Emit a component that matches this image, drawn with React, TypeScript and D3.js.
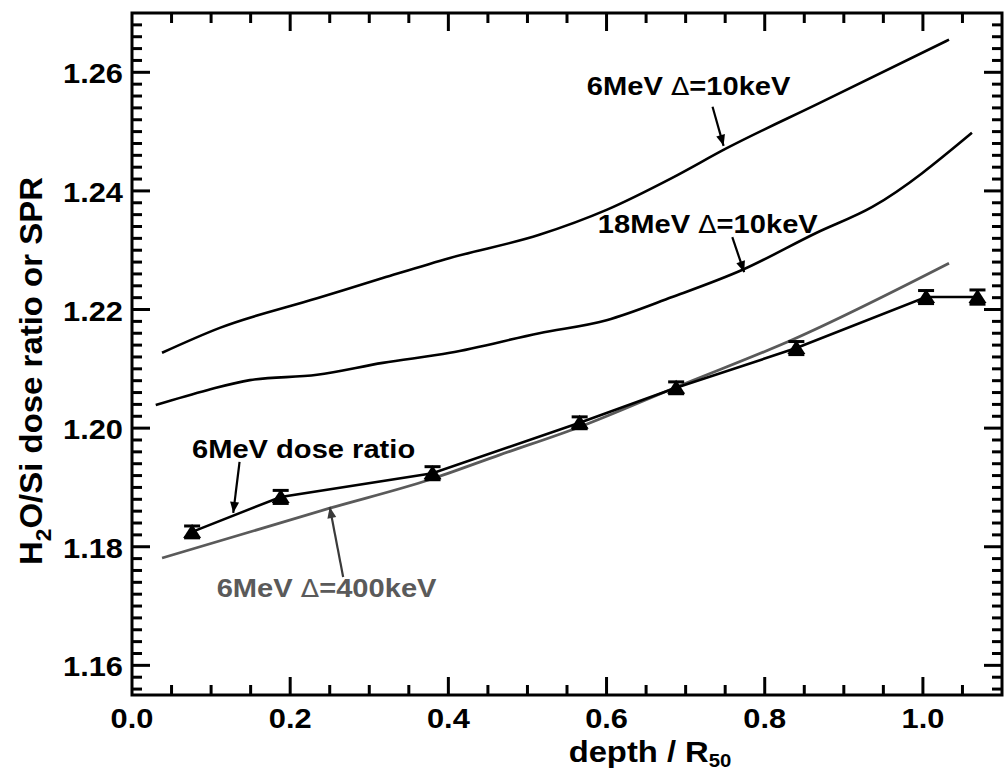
import React from "react";
import * as d3 from "d3";

// ---------- data ----------
const depthPts = [0.076, 0.188, 0.380, 0.566, 0.688, 0.840, 1.004, 1.069];
const doseRatio = [1.1825, 1.1884, 1.1924, 1.2009, 1.2068, 1.2135, 1.2221, 1.2221];
const doseErr = [0.0010, 0.0011, 0.0011, 0.0010, 0.0010, 0.0011, 0.0011, 0.0012];

const spr6x = [0.038, 0.111, 0.234, 0.317, 0.402, 0.515, 0.600, 0.683, 0.752, 0.869, 1.033];
const spr6y = [1.2127, 1.2169, 1.2219, 1.2253, 1.2287, 1.2326, 1.2368, 1.2422, 1.2472, 1.2548, 1.2655];

const spr18x = [0.030, 0.095, 0.149, 0.234, 0.317, 0.402, 0.515, 0.600, 0.683, 0.772, 0.865, 0.936, 1.062];
const spr18y = [1.2039, 1.2064, 1.2081, 1.2090, 1.2110, 1.2127, 1.2160, 1.2182, 1.2221, 1.2267, 1.2329, 1.2373, 1.2498];

const spr400x = [0.038, 0.250, 0.376, 0.465, 0.566, 0.688, 0.835, 1.033];
const spr400y = [1.1781, 1.1865, 1.1913, 1.1955, 1.2002, 1.2069, 1.2149, 1.2278];

const xMajorTicks = [0.0, 0.2, 0.4, 0.6, 0.8, 1.0];
const xTickLabels = ["0.0", "0.2", "0.4", "0.6", "0.8", "1.0"];
const yMajorTicks = [1.16, 1.18, 1.20, 1.22, 1.24, 1.26];
const yTickLabels = ["1.16", "1.18", "1.20", "1.22", "1.24", "1.26"];

const annLabels = [
  { pre: "6MeV ", delta: "\u0394", post: "=10keV", x: 0.575, y: 1.2562, gray: false },
  { pre: "18MeV ", delta: "\u0394", post: "=10keV", x: 0.589, y: 1.2329, gray: false },
  { pre: "6MeV dose ratio", delta: "", post: "", x: 0.0758, y: 1.1950, gray: false },
  { pre: "6MeV ", delta: "\u0394", post: "=400keV", x: 0.107, y: 1.1715, gray: true },
];
const annArrows = [
  { x1: 0.734, y1: 1.2542, x2: 0.748, y2: 1.2476, gray: false },
  { x1: 0.759, y1: 1.2322, x2: 0.774, y2: 1.2263, gray: false },
  { x1: 0.136, y1: 1.1943, x2: 0.128, y2: 1.1857, gray: false },
  { x1: 0.267, y1: 1.1749, x2: 0.250, y2: 1.1867, gray: true },
];

// ---------- layout ----------
const W = 1004;
const H = 773;
const X0 = 132, X1 = 1002, Y0 = 695, Y1 = 13;
const FONT = "'Liberation Sans', Arial, Helvetica, sans-serif";
const SX = 1.12;
const GRAY = "#5a5a5a";

export default function App() {
  const x = d3.scaleLinear().domain([0, 1.1]).range([X0, X1]);
  const y = d3.scaleLinear().domain([1.155, 1.27]).range([Y0, Y1]);

  const curve = (xs: number[], ys: number[]) =>
    d3.line<number>().x((_, i) => x(xs[i])).y((_, i) => y(ys[i])).curve(d3.curveMonotoneX)(xs) || "";
  const straight = d3.line<number>().x((_, i) => x(depthPts[i])).y((_, i) => y(doseRatio[i]))(depthPts) || "";

  const xMinorVals = d3.range(1, 22).map((k) => k * 0.05);
  const yMinorVals = d3.range(0, 57).map((k) => 1.156 + k * 0.002);
  const isXMaj = (v: number) => Math.abs(v / 0.2 - Math.round(v / 0.2)) < 1e-6;
  const isYMaj = (v: number) => Math.abs((v - 1.16) / 0.02 - Math.round((v - 1.16) / 0.02)) < 1e-6;

  const arrowHead = (a: any) => {
    const ax = x(a.x1), ay = y(a.y1), bx = x(a.x2), by = y(a.y2);
    const ang = Math.atan2(by - ay, bx - ax);
    const L = 11, Wd = 4.5;
    const px = bx - L * Math.cos(ang), py = by - L * Math.sin(ang);
    const nx = -Math.sin(ang), ny = Math.cos(ang);
    return `M${bx},${by}L${px + nx * Wd},${py + ny * Wd}L${px - nx * Wd},${py - ny * Wd}Z`;
  };

  return (
    <svg width={W} height={H} style={{ position: "absolute", left: 0, top: 0, background: "#fff" }}
      fontFamily={FONT} fontWeight="bold">
      <rect x={0} y={0} width={W} height={H} fill="#fff" />

      <path d={curve(spr6x, spr6y)} fill="none" stroke="#000" strokeWidth={2.6} />
      <path d={curve(spr18x, spr18y)} fill="none" stroke="#000" strokeWidth={2.6} />
      <path d={curve(spr400x, spr400y)} fill="none" stroke={GRAY} strokeWidth={2.8} />
      <path d={straight} fill="none" stroke="#000" strokeWidth={2.6} />

      {depthPts.map((d, i) => {
        const cx = x(d), cy = y(doseRatio[i]);
        const t = y(doseRatio[i] + doseErr[i]), b = y(doseRatio[i] - doseErr[i]);
        return (
          <g key={"p" + i}>
            <line x1={cx} x2={cx} y1={t} y2={b} stroke="#000" strokeWidth={3} />
            <line x1={cx - 8} x2={cx + 8} y1={t} y2={t} stroke="#000" strokeWidth={3} />
            <line x1={cx - 8} x2={cx + 8} y1={b} y2={b} stroke="#000" strokeWidth={3} />
            <path d={`M${cx - 9},${cy + 6}L${cx + 9},${cy + 6}L${cx},${cy - 8}Z`} fill="#000" />
          </g>
        );
      })}

      {annArrows.map((a, i) => {
        const c = a.gray ? "#3a3a3a" : "#000";
        return (
          <g key={"a" + i}>
            <line x1={x(a.x1)} y1={y(a.y1)} x2={x(a.x2)} y2={y(a.y2)} stroke={c} strokeWidth={2.2} />
            <path d={arrowHead(a)} fill={c} />
          </g>
        );
      })}

      {annLabels.map((l, i) => (
        <g key={"l" + i} transform={`translate(${x(l.x)},${y(l.y)}) scale(${SX},1)`}>
          <text x={0} y={0} fontSize={26} fill={l.gray ? GRAY : "#000"}>
            {l.pre}
            {l.delta && <tspan fontWeight="normal" fontFamily="'DejaVu Sans', sans-serif" fontSize={24}>{l.delta}</tspan>}
            {l.post}
          </text>
        </g>
      ))}

      <rect x={X0} y={Y1} width={X1 - X0} height={Y0 - Y1} fill="none" stroke="#000" strokeWidth={3} />

      {/* ticks on all four sides, pointing inward */}
      {xMinorVals.map((v, i) => {
        const len = isXMaj(v) ? 18 : 10;
        return (
          <g key={"xk" + i} stroke="#000" strokeWidth={3}>
            <line x1={x(v)} x2={x(v)} y1={Y0} y2={Y0 - len} />
            <line x1={x(v)} x2={x(v)} y1={Y1} y2={Y1 + len} />
          </g>
        );
      })}
      {yMinorVals.map((v, i) => {
        const len = isYMaj(v) ? 18 : 10;
        return (
          <g key={"yk" + i} stroke="#000" strokeWidth={3}>
            <line x1={X0} x2={X0 + len} y1={y(v)} y2={y(v)} />
            <line x1={X1} x2={X1 - len} y1={y(v)} y2={y(v)} />
          </g>
        );
      })}

      {xMajorTicks.map((v, i) => (
        <g key={"xt" + i} transform={`translate(${x(v)},${Y0 + 33}) scale(1.1,1)`}>
          <text textAnchor="middle" fontSize={28} fill="#000">{xTickLabels[i]}</text>
        </g>
      ))}
      {yMajorTicks.map((v, i) => (
        <g key={"yt" + i} transform={`translate(${X0 - 9},${y(v) + 11}) scale(1.1,1)`}>
          <text textAnchor="end" fontSize={28} fill="#000">{yTickLabels[i]}</text>
        </g>
      ))}

      <g transform={`translate(${(x(0.6) + x(0.8)) / 2 - 117},762) scale(1.13,1)`}>
        <text fontSize={29} fill="#000">
          depth / R<tspan fontSize={18} dy={5}>50</tspan>
        </text>
      </g>
      <g transform={`translate(42,${(Y0 + Y1) / 2 + 17}) rotate(-90) scale(1.03,1)`}>
        <text textAnchor="middle" fontSize={32} fill="#000">
          H<tspan fontSize={22} dy={9}>2</tspan><tspan dy={-9}>O/Si dose ratio or SPR</tspan>
        </text>
      </g>
    </svg>
  );
}
